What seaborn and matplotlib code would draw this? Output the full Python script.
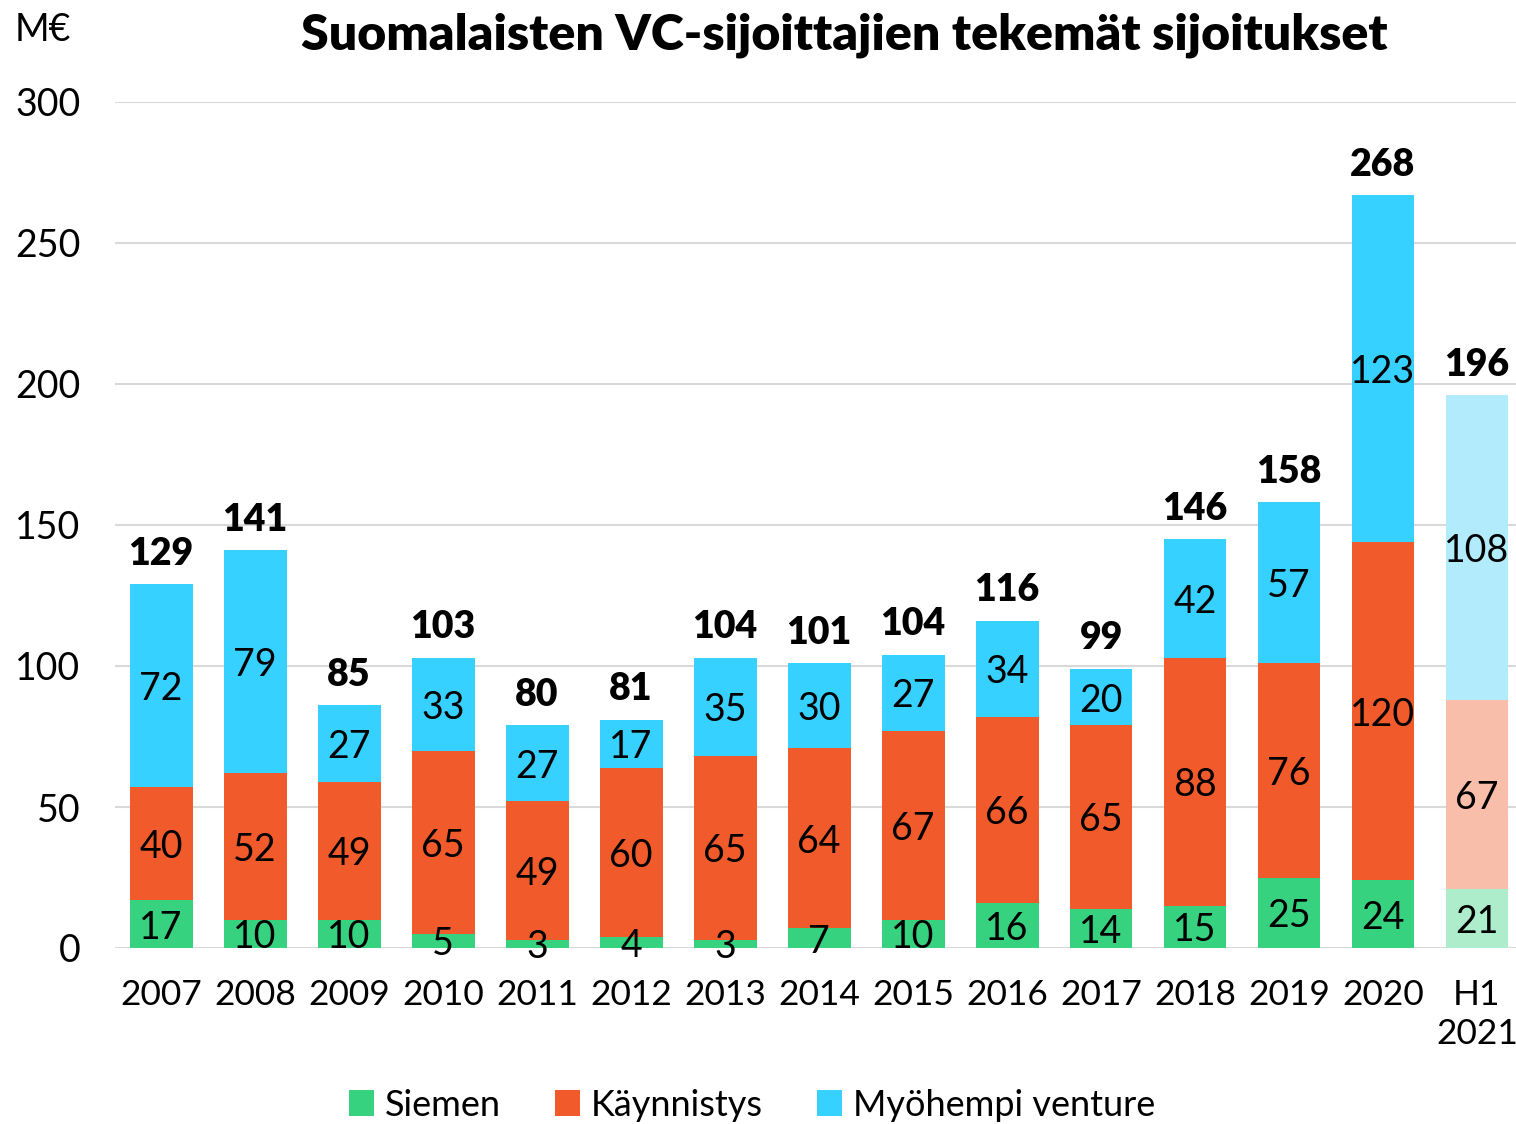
import numpy as np
import pandas as pd
import matplotlib.pyplot as plt
import seaborn as sns
from matplotlib.patches import Patch

years = ["2007", "2008", "2009", "2010", "2011", "2012", "2013", "2014",
         "2015", "2016", "2017", "2018", "2019", "2020", "H1\n2021"]
siemen = [17, 10, 10, 5, 3, 4, 3, 7, 10, 16, 14, 15, 25, 24, 21]
kaynnistys = [40, 52, 49, 65, 49, 60, 65, 64, 67, 66, 65, 88, 76, 120, 67]
myohempi = [72, 79, 27, 33, 27, 17, 35, 30, 27, 34, 20, 42, 57, 123, 108]
totals = [129, 141, 85, 103, 80, 81, 104, 101, 104, 116, 99, 146, 158, 268, 196]

series_names = ["Siemen", "Käynnistys", "Myöhempi venture"]
colors = ["#36D27F", "#F15A2B", "#36D1FF"]
light_colors = ["#AEEDCB", "#F9BEAA", "#B2ECFC"]

df = pd.DataFrame({"year": years, "siemen": siemen,
                   "kaynnistys": kaynnistys, "myohempi": myohempi})
df["k_top"] = df["siemen"] + df["kaynnistys"]
df["m_top"] = df["k_top"] + df["myohempi"]

sns.set_theme(style="white")
plt.rcParams["font.family"] = ["Lato", "DejaVu Sans"]
plt.rcParams["text.color"] = "black"
plt.rcParams["xtick.color"] = "black"
plt.rcParams["ytick.color"] = "black"

fig = plt.figure(figsize=(15.16, 11.24), dpi=100)
ax = fig.add_axes([115 / 1516, 1 - 948 / 1124, 1 - 115 / 1516, (948 - 102) / 1124])

# draw cumulative layers back to front
layers = [("m_top", 2), ("k_top", 1), ("siemen", 0)]
for col, idx in layers:
    pal = [colors[idx]] * (len(years) - 1) + [light_colors[idx]]
    sns.barplot(data=df, x="year", y=col, hue="year", palette=pal, legend=False,
                width=0.67, saturation=1, linewidth=0, ax=ax, zorder=3)

fs = 27
for i in range(len(years)):
    s, k, m = siemen[i], kaynnistys[i], myohempi[i]
    ax.text(i, s / 2, str(s), ha="center", va="center_baseline", fontsize=fs, zorder=5)
    ax.text(i, s + k / 2, str(k), ha="center", va="center_baseline", fontsize=fs, zorder=5)
    ax.text(i, s + k + m / 2, str(m), ha="center", va="center_baseline", fontsize=fs, zorder=5)
    ax.annotate(str(totals[i]), (i, s + k + m), xytext=(0, 14), textcoords="offset points",
                ha="center", va="baseline", fontsize=fs, fontweight="heavy")

ax.set_ylim(0, 300)
ax.set_xlim(-0.49, 14.415)
ax.set_yticks(np.arange(0, 301, 50))
ax.yaxis.grid(True, color="#D9D9D9", linewidth=1.5)
ax.set_axisbelow(True)
for sp in ax.spines.values():
    sp.set_visible(False)
ax.set_xlabel("")
ax.set_ylabel("")
ax.tick_params(axis="y", labelsize=fs, pad=25, length=0, labelcolor="black")
ax.tick_params(axis="x", labelsize=25.5, pad=22, length=0, labelcolor="black")
for lab in ax.get_xticklabels():
    lab.set_linespacing(1.3)

fig.text(844 / 1516, 1 - 35 / 1124, "Suomalaisten VC-sijoittajien tekemät sijoitukset",
         ha="center", va="center", fontsize=36, fontweight="heavy", color="black")
fig.text(15 / 1516, 1 - 30 / 1124, "M€", ha="left", va="center", fontsize=fs, color="black")

handles = [Patch(facecolor=c, edgecolor="none", label=n) for c, n in zip(colors, series_names)]
fig.legend(handles=handles, loc="center", bbox_to_anchor=(752 / 1516, 1 - 1105 / 1124),
           ncol=3, frameon=False, fontsize=26, handlelength=0.7, handleheight=0.7,
           handletextpad=0.3, columnspacing=1.5, labelcolor="black")

fig.savefig("out.png", dpi=100)
